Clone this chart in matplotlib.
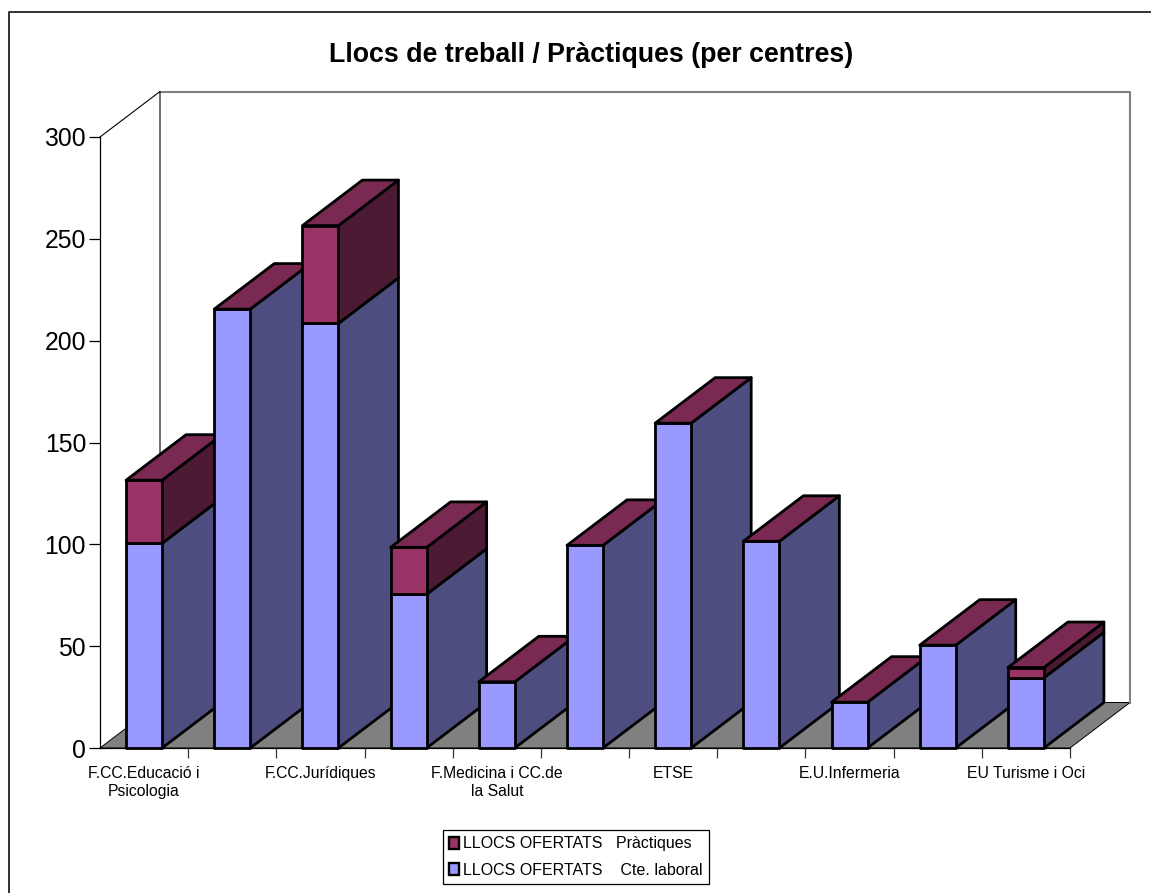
import matplotlib
matplotlib.use("Agg")
import matplotlib.pyplot as plt
from matplotlib.patches import Polygon, Patch
from matplotlib.lines import Line2D

plt.rcParams['font.family'] = ['Liberation Sans', 'DejaVu Sans']

title = "Llocs de treball / Pràctiques (per centres)"
tick_labels = ["F.CC.Educació i\nPsicologia", "F.CC.Jurídiques", "F.Medicina i CC.de\nla Salut",
               "ETSE", "E.U.Infermeria", "EU Turisme i Oci"]
laboral = [100.5, 215.5, 208.5, 75.5, 32.5, 99.5, 159.5, 101.5, 22.5, 50.5, 34.5]
practiques = [31, 0, 48, 23, 0, 0, 0, 0, 0, 0, 5]
y_ticks = [0, 50, 100, 150, 200, 250, 300]
legend_labels = ["LLOCS OFERTATS   Pràctiques", "LLOCS OFERTATS    Cte. laboral"]

W, H = 1151, 893
L, R, Y0, Y300 = 100, 1070, 748, 137
DX_PX, DY_PX = 60, 45.5

fig = plt.figure(figsize=(W / 100, H / 100), dpi=100, facecolor='white')
ax = fig.add_axes([L / W, 1 - Y0 / H, (R - L) / W, (Y0 - Y300) / H])
n = len(laboral)
ax.set_xlim(-0.5, n - 0.5)
ax.set_ylim(0, 300)
for s in ax.spines.values():
    s.set_visible(False)
ax.patch.set_visible(False)

dx = DX_PX / ((R - L) / n)
dy = DY_PX / ((Y0 - Y300) / 300)
bw = 36.0 / ((R - L) / n)
x0, x1 = -0.5, n - 0.5

# frame
fig.add_artist(Line2D([9 / W, 9 / W, 1151 / W], [0, 1 - 12 / H, 1 - 12 / H],
                      transform=fig.transFigure, color='#222222', lw=1.3))

# walls and floor
ax.add_patch(Polygon([(x0 + dx, dy), (x1 + dx, dy), (x1, 0), (x0, 0)], closed=True, fc='#808080',
                     ec='black', lw=0.7, clip_on=False, zorder=1))
ax.plot([x0 + dx, x1 + dx, x1 + dx], [300 + dy, 300 + dy, dy], color='#808080', lw=1.5, clip_on=False, zorder=1)
ax.plot([x0, x0 + dx, x0 + dx], [300, 300 + dy, dy], color='black', lw=0.8, clip_on=False, zorder=1)
ax.plot([x0, x0], [0, 300], color='black', lw=0.9, clip_on=False, zorder=1)
ax.plot([x0, x1], [0, 0], color='black', lw=0.9, clip_on=False, zorder=1)

FRONT = ('#9999FF', '#993366')
SIDE = ('#4D4D80', '#4D1A33')
TOP = '#7A2A52'
LW = 2.0
z = 2
for i, (a, b) in enumerate(zip(laboral, practiques)):
    xl, xr = i - bw / 2, i + bw / 2
    segs = [(0, a, 0), (a, a + b, 1)]
    for lo, hi, c in segs:
        if hi <= lo:
            continue
        ax.add_patch(Polygon([(xr, lo), (xr + dx, lo + dy), (xr + dx, hi + dy), (xr, hi)], closed=True,
                             fc=SIDE[c], ec='black', lw=LW, joinstyle='round', clip_on=False, zorder=z))
        ax.add_patch(Polygon([(xl, lo), (xr, lo), (xr, hi), (xl, hi)], closed=True,
                             fc=FRONT[c], ec='black', lw=LW, joinstyle='round', clip_on=False, zorder=z))
    h = a + b
    ax.add_patch(Polygon([(xl, h), (xr, h), (xr + dx, h + dy), (xl + dx, h + dy)], closed=True,
                         fc=TOP, ec='black', lw=LW, joinstyle='round', clip_on=False, zorder=z))
    z += 1

# axes ticks
ax.set_yticks(y_ticks)
ax.tick_params(axis='y', length=8, width=0.9, pad=2, labelsize=17.8, color='black')
major = [x0 + k for k in range(1, n + 1)]
ax.set_xticks(major)
ax.set_xticklabels([""] * len(major))
ax.tick_params(axis='x', length=7, width=0.9, color='#333333')
centers = list(range(0, n + 1, 2))
for k, lab in zip(centers, tick_labels):
    ax.annotate(lab, xy=(k, 0), xycoords='data', xytext=(0, -13), textcoords='offset points',
                ha='center', va='top', fontsize=11.3, linespacing=1.25, annotation_clip=False)

fig.text(591 / W, 1 - 55 / H, title, ha='center', va='center', fontsize=19.3, fontweight='bold')

handles = [Patch(fc=FRONT[1], ec='black', lw=1.7), Patch(fc=FRONT[0], ec='black', lw=1.7)]
leg = fig.legend(handles, legend_labels, loc='center', bbox_to_anchor=(576 / W, 1 - 857 / H),
                 fontsize=11.5, fancybox=False, framealpha=1, edgecolor='black', handlelength=0.6, handleheight=0.8,
                 handletextpad=0.3, borderpad=0.4, labelspacing=0.7, borderaxespad=0)
leg.get_frame().set_linewidth(0.9)

fig.savefig("out.png", dpi=100)
